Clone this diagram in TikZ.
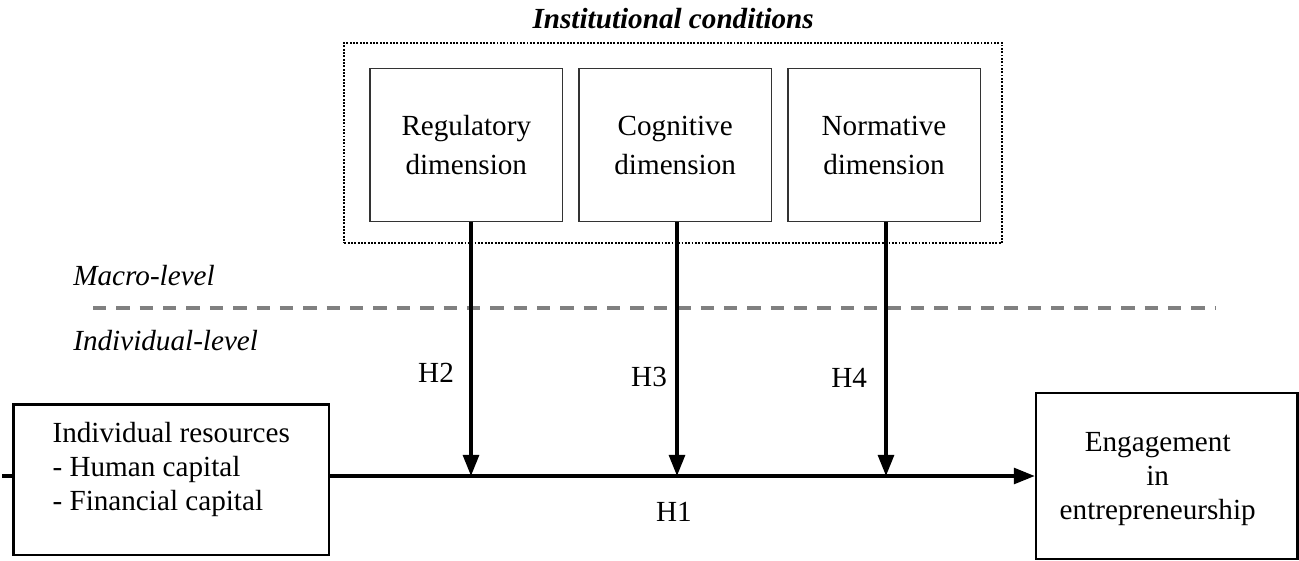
\documentclass[tikz,border=0pt]{standalone}
\usepackage{fontspec}
\setmainfont{Liberation Serif}
\usetikzlibrary{arrows.meta, positioning, fit, calc}

\begin{document}
\begin{tikzpicture}[
		x=0.02cm, y=-0.02cm,
		font=\fontsize{16.6pt}{19.3pt}\selectfont,
		dimbox/.style={
			draw=black!80,
			line width=0.8pt,
			minimum width=3.85cm,
			minimum height=3.07cm,
			align=center,
			font=\fontsize{16.6pt}{22.2pt}\selectfont
		},
		outerbox/.style={draw, line width=1.3pt},
		arr/.style={-{Triangle[length=12pt, width=9pt]}, line width=2pt}
	]
	\tikzstyle{LevelText} = [ %italic labels of the two levels
		font=\fontsize{16.6pt}{19.3pt}\selectfont\itshape,
		anchor=base west,
		inner sep=0pt
	]
	\tikzstyle{dotbox} = [
		draw,
		line width=1.1pt,
		dash pattern=on 1.1pt off 0.8pt
	]
	\tikzstyle{divider} = [
		draw=gray,
		line width=2pt,
		dash pattern=on 7.6pt off 5.7pt
	]
	\useasboundingbox (0,0) rectangle (1299,561);

	% institutional conditions
	\node (reg) [dimbox] at (466.3,145) {Regulatory\\dimension};
	\node (cog) [dimbox, right = 0.3cm of reg] {Cognitive\\dimension};
	\node (norm) [dimbox, right = 0.3cm of cog] {Normative\\dimension};
	\node (inst) [dotbox, fit=(reg)(cog)(norm), inner sep=0.46cm, xshift=-0.04cm, yshift=0.04cm] {};
	\node (title) [above = 0.14cm of inst, font=\fontsize{16.6pt}{19.3pt}\selectfont\bfseries\itshape] {Institutional conditions};

	% levels
	\node (macro) [LevelText] at (73,285) {Macro-level};
	\node (indiv) [LevelText] at (73,350) {Individual-level};
	\coordinate (divL) at (93,308);
	\coordinate (divR) at (1216,308);
	\draw[divider] (divL) -- (divR);

	% individual level
	\node (res) [outerbox, minimum width=6.31cm, minimum height=3.01cm] at (171.2,479.7) {};
	\node (restext) [align=left] at ([yshift=0.21cm]res.center) {Individual resources\\- Human capital\\- Financial capital};
	\node (eng) [outerbox, minimum width=5.23cm, minimum height=3.32cm] at (1166.7,475.7) {};
	\node (engtext) [align=center] at ([xshift=-0.18cm, yshift=-0.07cm]eng.center) {Engagement\\in\\entrepreneurship};

	\coordinate (stub) at (2,476);
	\coordinate (j2) at (471,476);
	\coordinate (j3) at (677,476);
	\coordinate (j4) at (886,476);

	\draw[line width=2pt] (stub) -- (stub -| res.west);
	\draw[arr] (res.east |- j3) -- node [pos=0.488, below=0.38cm] (h1) {H1} (eng.west |- j3);
	\draw[arr] (reg.south -| j2) -- node [pos=0.594, left=0.19cm] (h2) {H2} (j2);
	\draw[arr] (cog.south -| j3) -- node [pos=0.61, left=0.05cm] (h3) {H3} (j3);
	\draw[arr] (norm.south -| j4) -- node [pos=0.613, left=0.23cm] (h4) {H4} (j4);
\end{tikzpicture}
\end{document}
